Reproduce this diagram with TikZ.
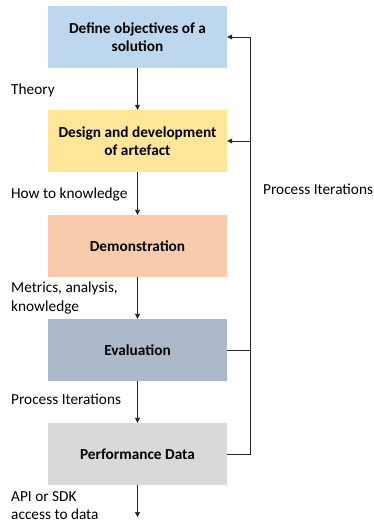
\documentclass[tikz,border=0pt]{standalone}
\usepackage{fontspec}
\setmainfont{Carlito}
\usetikzlibrary{arrows.meta}
\definecolor{cblue}{HTML}{BDD7EE}
\definecolor{cyellow}{HTML}{FFE699}
\definecolor{corange}{HTML}{F8CBAD}
\definecolor{cgray}{HTML}{ADB9CA}
\definecolor{clight}{HTML}{D9D9D9}
\begin{document}
\begin{tikzpicture}[x=1pt,y=-1pt,
  stage/.style={minimum width=179pt,minimum height=62pt,inner sep=0pt,align=center,font=\fontsize{15.3}{18}\selectfont\bfseries},
  lbl/.style={anchor=west,inner sep=0pt,align=left,font=\fontsize{15.3}{18}\selectfont},
  conn/.style={-{Triangle[length=5pt,width=5pt]},line width=0.6pt,draw=black!85}]
\useasboundingbox (0,0) rectangle (374,524);
\node[stage,fill=cblue] (s1) at (137.5,37) {Define objectives of a\\solution};
\node[stage,fill=cyellow] (s2) at (137.5,141) {Design and development\\of artefact};
\node[stage,fill=corange] (s3) at (137.5,246) {Demonstration};
\node[stage,fill=cgray] (s4) at (137.5,350) {Evaluation};
\node[stage,fill=clight] (s5) at (137.5,454) {Performance Data};
\coordinate (end) at (137.5,517);
\draw[conn] (s1) -- (s2);
\draw[conn] (s2) -- (s3);
\draw[conn] (s3) -- (s4);
\draw[conn] (s4) -- (s5);
\draw[conn] (s5) -- (end);
\node[lbl] (l1) at (11,90) {Theory};
\node[lbl] (l2) at (11,195) {How to knowledge};
\node[lbl] (l3) at (11,298) {Metrics, analysis,\\knowledge};
\node[lbl] (l4) at (11,399) {Process Iterations};
\node[lbl] (l5) at (11,506) {API or SDK\\access to data};
\node[lbl] (l6) at (263,189) {Process Iterations};
\coordinate (r1) at (250,37);
\coordinate (r2) at (250,141);
\coordinate (r4) at (250,350);
\coordinate (r5) at (250,454);
\draw[line width=0.6pt,draw=black!85] (s5.east) -- (r5) -- (r1);
\draw[line width=0.6pt,draw=black!85] (s4.east) -- (r4);
\draw[conn] (r1) -- (s1.east);
\draw[conn] (r2) -- (s2.east);
\end{tikzpicture}
\end{document}
